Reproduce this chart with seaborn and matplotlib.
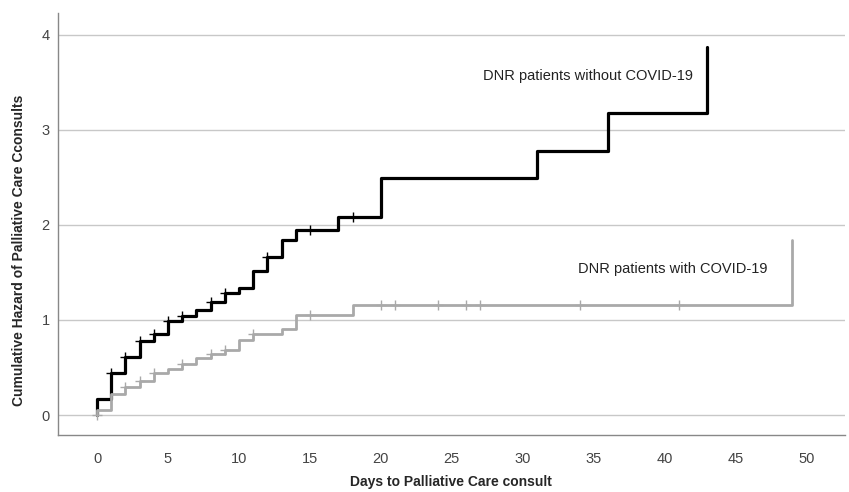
import numpy as np
import pandas as pd
import matplotlib
matplotlib.use("Agg")
import matplotlib.pyplot as plt
import seaborn as sns

# ---- data ----
no_covid_times = [0, 0, 1, 2, 3, 4, 5, 6, 7, 8, 9, 10, 11, 12, 13, 14, 17, 20, 31, 36, 43]
no_covid_hazard = [0.0, 0.17, 0.44, 0.61, 0.78, 0.85, 0.99, 1.04, 1.10, 1.19, 1.28, 1.34,
                   1.52, 1.66, 1.84, 1.95, 2.08, 2.49, 2.78, 3.18, 3.87]
no_covid_censored = [1, 2, 3, 4, 5, 6, 8, 9, 12, 15, 18]

covid_times = [0, 0, 1, 2, 3, 4, 5, 6, 7, 8, 9, 10, 11, 13, 14, 18, 49]
covid_hazard = [0.0, 0.05, 0.22, 0.29, 0.36, 0.44, 0.48, 0.54, 0.60, 0.64, 0.68, 0.79,
                0.85, 0.91, 1.05, 1.16, 1.84]
covid_censored = [0, 2, 3, 4, 6, 8, 9, 11, 15, 20, 21, 24, 26, 27, 34, 41]

label_no_covid = "DNR patients without COVID-19"
label_covid = "DNR patients with COVID-19"
x_ticks = [0, 5, 10, 15, 20, 25, 30, 35, 40, 45, 50]
y_ticks = [0, 1, 2, 3, 4]


def step_value(times, values, t):
    idx = np.searchsorted(np.array(times), t, side="right") - 1
    return values[max(idx, 0)]


df = pd.concat([
    pd.DataFrame({"days": no_covid_times, "hazard": no_covid_hazard, "group": label_no_covid}),
    pd.DataFrame({"days": covid_times, "hazard": covid_hazard, "group": label_covid}),
], ignore_index=True)

cens = pd.concat([
    pd.DataFrame({"days": no_covid_censored,
                  "hazard": [step_value(no_covid_times, no_covid_hazard, t) for t in no_covid_censored],
                  "group": label_no_covid}),
    pd.DataFrame({"days": covid_censored,
                  "hazard": [0.0 if t == 0 else step_value(covid_times, covid_hazard, t) for t in covid_censored],
                  "group": label_covid}),
], ignore_index=True)

sns.set_theme(style="white")
plt.rcParams["font.family"] = ["Liberation Sans", "DejaVu Sans"]

BLACK = "#000000"
GREY = "#a9a9a9"
palette = {label_no_covid: BLACK, label_covid: GREY}

fig = plt.figure(figsize=(8.49, 4.92), dpi=100)
ax = fig.add_axes([58 / 849, 57 / 492, (845 - 58) / 849, (435 - 13) / 492])

for grp, lw, z in [(label_no_covid, 2.3, 3), (label_covid, 2.0, 4)]:
    sub = df[df["group"] == grp]
    sns.lineplot(data=sub, x="days", y="hazard", color=palette[grp], estimator=None,
                 sort=False, drawstyle="steps-post", linewidth=lw, ax=ax, zorder=z,
                 legend=False)
    csub = cens[cens["group"] == grp]
    ax.scatter(csub["days"], csub["hazard"], marker="+", s=45, color=palette[grp],
               linewidths=1.0, zorder=z + 0.5)

ax.set_xlim(-2.75, 52.7)
ax.set_ylim(-0.21, 4.23)
ax.set_xticks(x_ticks)
ax.set_yticks(y_ticks)
ax.yaxis.grid(True, color="#c8c8c8", linewidth=1.0)
ax.xaxis.grid(False)
ax.set_axisbelow(True)
ax.tick_params(axis="both", length=0, labelsize=10.5, colors="#444444")
ax.tick_params(axis="x", pad=12)
ax.tick_params(axis="y", pad=6)

for s in ["top", "right"]:
    ax.spines[s].set_visible(False)
for s in ["left", "bottom"]:
    ax.spines[s].set_color("#888888")
    ax.spines[s].set_linewidth(1.0)

ax.set_xlabel("Days to Palliative Care consult", fontsize=10, fontweight="bold")
ax.set_ylabel("Cumulative Hazard of Palliative Care Cconsults", fontsize=10,
              fontweight="bold")
# label positions (axes fraction) matching the reference
ax.xaxis.set_label_coords((451 - 58) / 787, (435 - 475) / 422)
ax.yaxis.set_label_coords((26 - 58) / 787, (435 - 250) / 422)

ax.text(27.2, 3.57, label_no_covid, fontsize=10.5, color="#222222", va="center", ha="left")
ax.text(33.9, 1.54, label_covid, fontsize=10.5, color="#222222", va="center", ha="left")

fig.savefig("out.png", dpi=100)
